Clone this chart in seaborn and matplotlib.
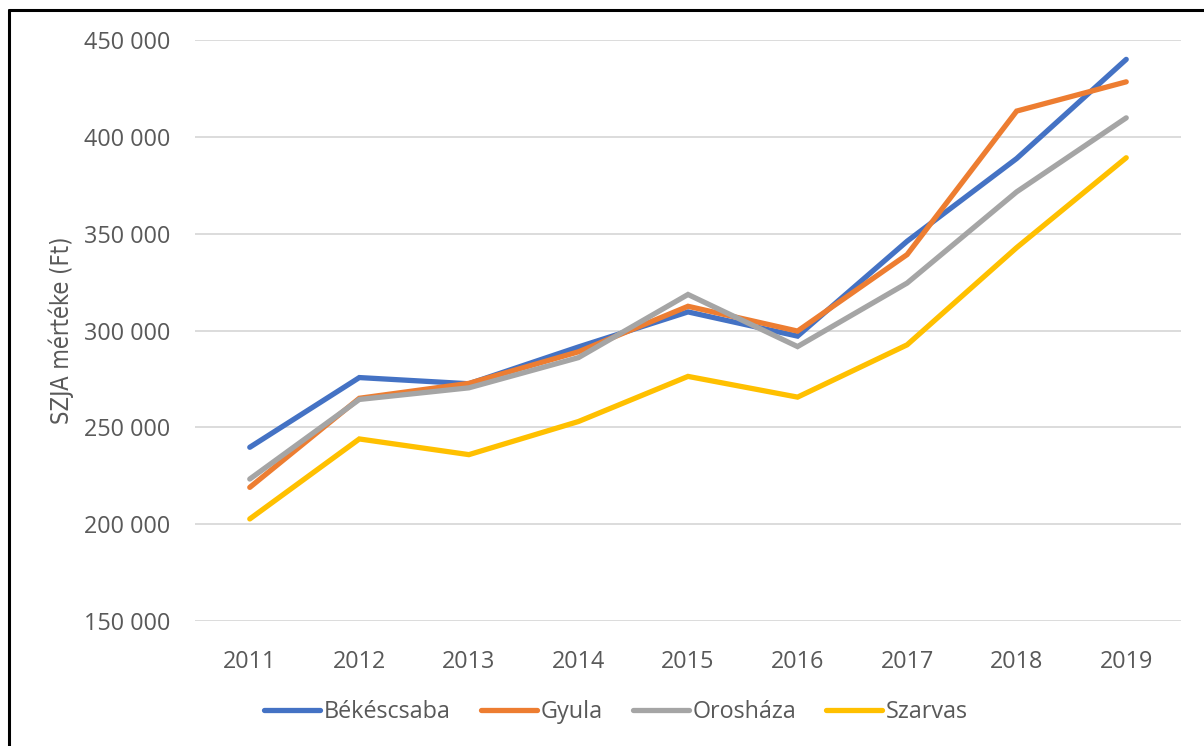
import numpy as np
import pandas as pd
import matplotlib.pyplot as plt
import seaborn as sns
from matplotlib.lines import Line2D
from matplotlib.ticker import FuncFormatter

years = [2011, 2012, 2013, 2014, 2015, 2016, 2017, 2018, 2019]
bekescsaba = [239700, 275700, 272500, 291500, 309600, 297100, 346100, 388800, 440000]
gyula = [219000, 265000, 272700, 289000, 312500, 299700, 339200, 413300, 428400]
oroshaza = [223300, 264400, 270400, 286000, 318600, 291700, 324500, 371600, 409800]
szarvas = [202700, 244000, 235900, 253000, 276300, 265600, 292600, 342800, 389200]

series_names = ['Békéscsaba', 'Gyula', 'Orosháza', 'Szarvas']
colors = ['#4472C4', '#ED7D31', '#A5A5A5', '#FFC000']

df = pd.DataFrame({
    'year': years * 4,
    'value': bekescsaba + gyula + oroshaza + szarvas,
    'city': [n for n in series_names for _ in years],
})

sns.set_style('white')
plt.rcParams['font.family'] = ['Open Sans', 'DejaVu Sans']
text_color = '#595959'

fig = plt.figure(figsize=(12.04, 7.46), dpi=100)
ax = fig.add_axes([195 / 1204, 1 - 621 / 746, (1181 - 195) / 1204, (621 - 40) / 746])

sns.lineplot(data=df, x='year', y='value', hue='city', palette=colors,
             linewidth=3.8, ax=ax, legend=False)
for line in ax.lines:
    line.set_solid_capstyle('round')
    line.set_solid_joinstyle('miter')

ax.set_xlim(2010.5, 2019.5)
ax.set_ylim(150000, 450000)
ax.set_yticks(np.arange(150000, 450001, 50000))
ax.set_xticks(years)
ax.yaxis.set_major_formatter(FuncFormatter(lambda v, p: f'{int(v):,}'.replace(',', ' ')))
ax.grid(axis='y', color='#D9D9D9', linewidth=1.3)
ax.set_axisbelow(True)
for s in ax.spines.values():
    s.set_visible(False)
ax.tick_params(axis='both', length=0, labelsize=16.8, colors=text_color)
ax.tick_params(axis='y', pad=18)
ax.tick_params(axis='x', pad=21)
ax.set_xlabel('')
ax.set_ylabel('SZJA mértéke (Ft)', fontsize=17, color=text_color,
              family=['DejaVu Sans'], fontstretch='condensed')
ax.yaxis.set_label_coords(-121 / 986, 0.5)

handles = [Line2D([0], [0], color=c, linewidth=3.8, solid_capstyle='round') for c in colors]
fig.legend(handles, series_names, loc='center', bbox_to_anchor=(0.5 + 14 / 1204, 1 - 712 / 746),
           ncol=4, frameon=False, fontsize=16.8, labelcolor=text_color,
           handlelength=2.4, handletextpad=0.15, columnspacing=1.3)

# chart frame, only top and left edges visible in the crop
fig.add_artist(Line2D([9 / 1204, 1], [1 - 10 / 746, 1 - 10 / 746], color='black', linewidth=2.2,
                      transform=fig.transFigure))
fig.add_artist(Line2D([9 / 1204, 9 / 1204], [0, 1 - 10 / 746], color='black', linewidth=2.2,
                      transform=fig.transFigure))

fig.savefig('out.png', dpi=100, facecolor='white')
